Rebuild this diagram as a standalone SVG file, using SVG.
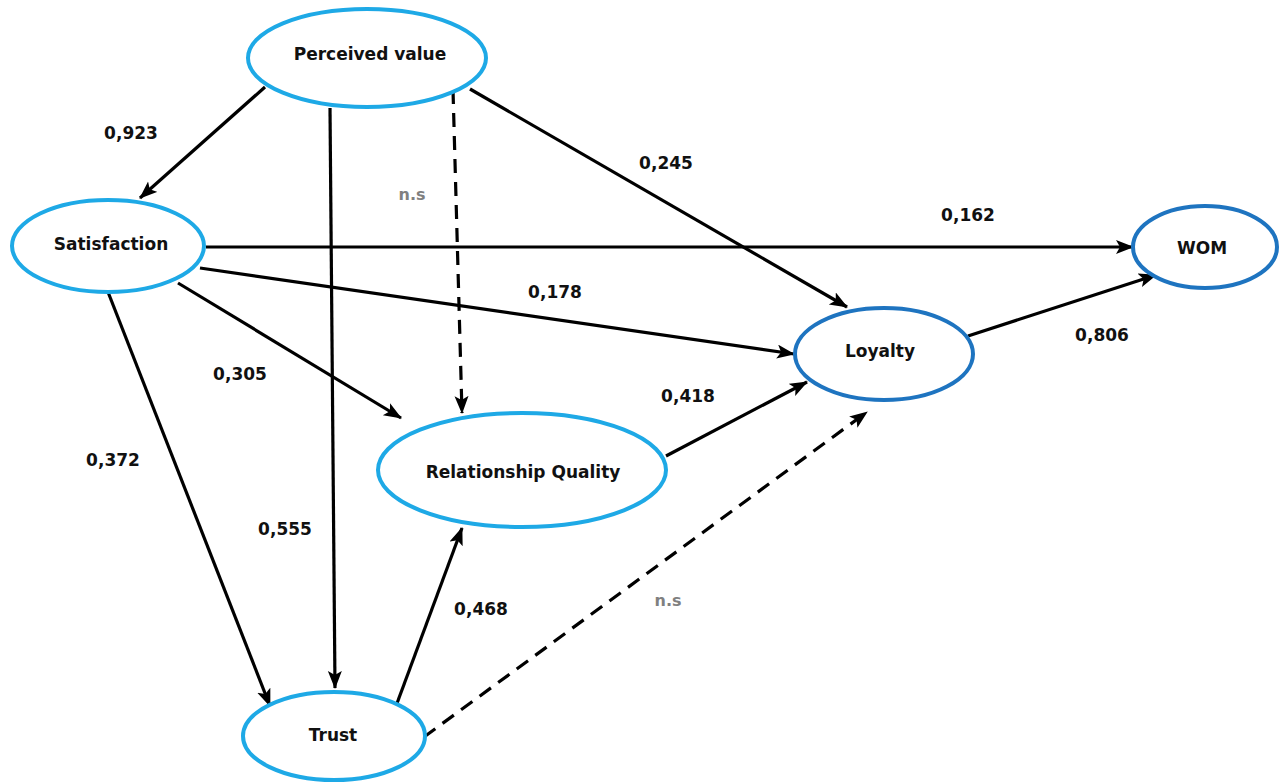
<svg xmlns="http://www.w3.org/2000/svg" width="1280" height="783" viewBox="0 0 1280 783">
<style>
.n1{fill:#fff;stroke:#1ea9e6;stroke-width:4}
.n2{fill:#fff;stroke:#1e74c0;stroke-width:4}
.t{font-family:"DejaVu Sans",Verdana,sans-serif;font-weight:bold;font-size:17px;fill:#111;text-anchor:middle;dominant-baseline:central}
.l{font-family:"DejaVu Sans",Verdana,sans-serif;font-weight:bold;font-size:17px;fill:#111;text-anchor:middle;dominant-baseline:central}
.ns{font-family:"DejaVu Sans",Verdana,sans-serif;font-weight:bold;font-size:16px;fill:#808080;text-anchor:middle;dominant-baseline:central}
.c{stroke:#000;stroke-width:3.2;fill:none;marker-end:url(#ah)}
.d{stroke-dasharray:14 9}
</style>
<defs>
<marker id="ah" markerUnits="userSpaceOnUse" markerWidth="20" markerHeight="16" refX="17" refY="7" orient="auto">
<path d="M0,0 L18,7 L0,14 L4,7 z" fill="#000"/>
</marker>
</defs>
<rect width="1280" height="783" fill="#fff"/>
<g id="connectors">
<line class="c" x1="265" y1="87" x2="140" y2="198"/>
<line class="c" x1="330" y1="108" x2="335" y2="688"/>
<line class="c d" x1="453" y1="90" x2="462" y2="413"/>
<line class="c" x1="470" y1="89" x2="847" y2="307"/>
<line class="c" x1="206" y1="247" x2="1133" y2="247"/>
<line class="c" x1="200" y1="268" x2="794" y2="354"/>
<line class="c" x1="178" y1="283" x2="401" y2="418"/>
<line class="c" x1="108" y1="292" x2="270" y2="706"/>
<line class="c" x1="396" y1="706" x2="462" y2="528"/>
<line class="c d" x1="424" y1="737" x2="867" y2="412"/>
<line class="c" x1="666" y1="456" x2="807" y2="382"/>
<line class="c" x1="968" y1="336" x2="1156" y2="275"/>
<text class="l" x="131" y="133">0,923</text>
<text class="l" x="285" y="529">0,555</text>
<text class="ns" x="412" y="194">n.s</text>
<text class="l" x="666" y="163">0,245</text>
<text class="l" x="968" y="215">0,162</text>
<text class="l" x="555" y="292">0,178</text>
<text class="l" x="240" y="374">0,305</text>
<text class="l" x="113" y="460">0,372</text>
<text class="l" x="481" y="609">0,468</text>
<text class="ns" x="668" y="600">n.s</text>
<text class="l" x="688" y="396">0,418</text>
<text class="l" x="1102" y="335">0,806</text>
</g>
<g id="perceived-value">
<ellipse class="n1" cx="367" cy="58" rx="119" ry="49"/>
<text class="t" x="370" y="54">Perceived value</text>
</g>
<g id="satisfaction">
<ellipse class="n1" cx="108" cy="246" rx="96" ry="46"/>
<text class="t" x="111" y="244">Satisfaction</text>
</g>
<g id="wom">
<ellipse class="n2" cx="1205" cy="247" rx="72" ry="41"/>
<text class="t" x="1202" y="248">WOM</text>
</g>
<g id="loyalty">
<ellipse class="n2" cx="884" cy="354" rx="89" ry="46"/>
<text class="t" x="880" y="351">Loyalty</text>
</g>
<g id="relationship-quality">
<ellipse class="n1" cx="522" cy="470" rx="144" ry="57"/>
<text class="t" x="523" y="472">Relationship Quality</text>
</g>
<g id="trust">
<ellipse class="n1" cx="334" cy="736" rx="91" ry="44"/>
<text class="t" x="333" y="735">Trust</text>
</g>
</svg>
